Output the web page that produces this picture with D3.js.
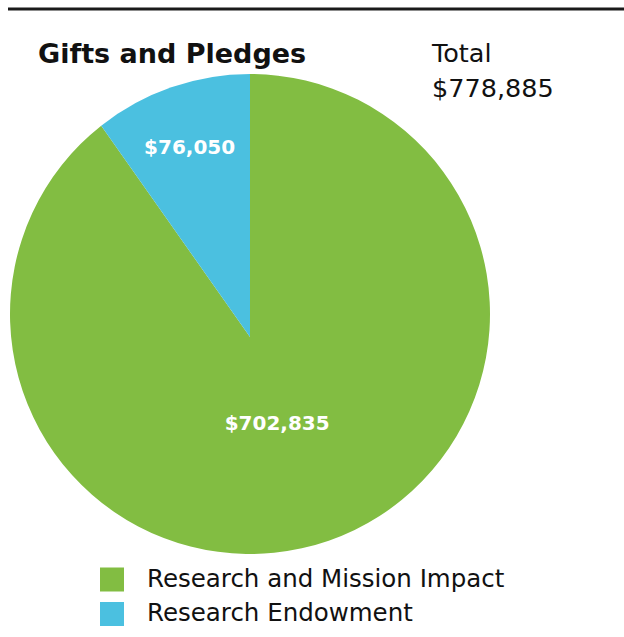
<!DOCTYPE html>
<meta charset="utf-8">
<html>
<head>
<script src="https://cdn.jsdelivr.net/npm/d3@7"></script>
<style>
body { margin: 0; background: #fff; }
svg { display: block; }
</style>
</head>
<body>
<script>
// data
var categories = ["Research and Mission Impact", "Research Endowment"];
var amounts = [702835, 76050];
var labels = ["$702,835", "$76,050"];
var colors = ["#82bd42", "#4bc0e0"];
var title = "Gifts and Pledges";
var totalLines = ["Total", "$778,885"];

var width = 624, height = 637;
var cx = 250, cy = 314, radius = 240;
var apexDy = 23;          // the slices meet a bit below the circle centre in the original
var labelDist = [90, 200];

var svg = d3.select("body").append("svg")
    .attr("width", width)
    .attr("height", height);

// top rule
svg.append("line")
    .attr("x1", 8).attr("x2", width)
    .attr("y1", 9).attr("y2", 9)
    .attr("stroke", "#1a1a1a")
    .attr("stroke-width", 3);

var pie = d3.pie().sort(null).value(function(d) { return d; });
var arcs = pie(amounts);

// where a ray from the apex at angle a (clockwise from up) hits the circle
function rim(a) {
  var dx = Math.sin(a), dy = -Math.cos(a);
  var ad = apexDy * dy;
  var t = -ad + Math.sqrt(ad * ad - apexDy * apexDy + radius * radius);
  return Math.atan2(apexDy + t * dy, t * dx);   // canvas angle
}

function wedge(d) {
  var p = d3.path();
  var a0 = rim(d.startAngle), a1 = rim(d.endAngle);
  if (a1 <= a0) a1 += 2 * Math.PI;
  p.moveTo(0, apexDy);
  p.lineTo(radius * Math.cos(a0), radius * Math.sin(a0));
  p.arc(0, 0, radius, a0, a1);
  p.closePath();
  return p.toString();
}

var g = svg.append("g").attr("transform", "translate(" + cx + "," + cy + ")");

g.selectAll("path")
    .data(arcs)
  .enter().append("path")
    .attr("d", wedge)
    .attr("fill", function(d, i) { return colors[i]; });

// slice labels
g.selectAll("text.val")
    .data(arcs)
  .enter().append("text")
    .attr("class", "val")
    .attr("transform", function(d, i) {
      var a = (d.startAngle + d.endAngle) / 2, k = labelDist[i];
      return "translate(" + (k * Math.sin(a)) + "," + (apexDy - k * Math.cos(a)) + ")";
    })
    .attr("text-anchor", "middle")
    .attr("dy", "0.36em")
    .attr("fill", "#fff")
    .style("font", "bold 20px 'DejaVu Sans', sans-serif")
    .text(function(d, i) { return labels[i]; });

// title
svg.append("text")
    .attr("x", 38).attr("y", 63)
    .style("font", "bold 27px 'DejaVu Sans', sans-serif")
    .attr("fill", "#111")
    .text(title);

svg.append("text")
    .attr("x", 432).attr("y", 62)
    .style("font", "25.5px 'DejaVu Sans', sans-serif")
    .attr("fill", "#111")
    .selectAll("tspan")
    .data(totalLines)
  .enter().append("tspan")
    .attr("x", 432)
    .attr("dy", function(d, i) { return i ? 34.5 : 0; })
    .text(function(d) { return d; });

// legend
var legend = svg.append("g").selectAll("g")
    .data(categories)
  .enter().append("g")
    .attr("transform", function(d, i) { return "translate(100," + (567.5 + i * 34.5) + ")"; });

legend.append("rect")
    .attr("width", 24).attr("height", 24)
    .attr("fill", function(d, i) { return colors[i]; });

legend.append("text")
    .attr("x", 47).attr("y", 19)
    .style("font", "24.5px 'DejaVu Sans', sans-serif")
    .attr("fill", "#111")
    .text(function(d) { return d; });
</script>
</body>
</html>
